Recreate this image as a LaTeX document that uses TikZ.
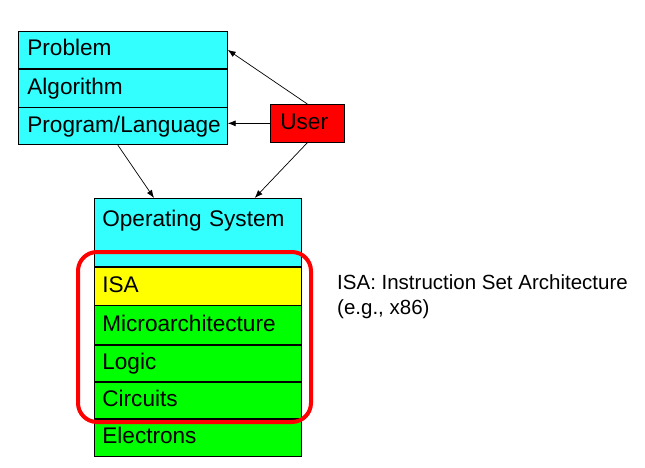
\documentclass[tikz,border=0pt]{standalone}
\usepackage{fontspec}
\setmainfont{Liberation Sans}
\usetikzlibrary{arrows.meta}

\definecolor{layerCyan}{RGB}{51,255,255}
\definecolor{layerYellow}{RGB}{255,255,0}
\definecolor{layerGreen}{RGB}{0,255,0}
\definecolor{userRed}{RGB}{255,0,0}

\tikzset{
  layer/.style={
    draw, line width=0.7pt, anchor=north west,
    inner xsep=9pt, inner ysep=0pt,
    text width=191pt, align=left,
    text height=16pt, text depth=4pt,
    font=\fontsize{22.6}{27}\selectfont
  },
  link/.style={-{Latex[length=8pt,width=6pt]}, line width=0.7pt},
  isaRing/.style={draw=userRed, line width=4pt, rounded corners=19pt},
}

\begin{document}
\begin{tikzpicture}[x=1pt, y=-1pt]
      \useasboundingbox (0,0) rectangle (645,468);

      % Software side
      \node[layer, fill=layerCyan, minimum width=209pt, minimum height=37pt]
        (problem) at (18,31) {Problem};
      \node[layer, fill=layerCyan, minimum width=209pt, minimum height=38pt]
        (algorithm) at (problem.south west) {Algorithm};
      \node[layer, fill=layerCyan, minimum width=209pt, minimum height=37pt]
        (program) at (algorithm.south west) {Program/Language};

      \node[layer, fill=userRed, text width=54pt, inner xsep=10pt,
        minimum width=74pt, minimum height=38pt]
        (user) at (270,104) {User};

      % Hardware side
      \node[layer, fill=layerCyan, inner xsep=8pt, inner ysep=12pt,
        text depth=28pt, minimum width=207pt, minimum height=68pt]
        (os) at (94,198) {Operating System};
      \node[layer, fill=layerYellow, inner xsep=8pt,
        minimum width=207pt, minimum height=38pt]
        (isa) at (os.south west) {ISA};
      \node[layer, fill=layerGreen, inner xsep=8pt,
        minimum width=207pt, minimum height=39pt]
        (micro) at (isa.south west) {Microarchitecture};
      \node[layer, fill=layerGreen, inner xsep=8pt,
        minimum width=207pt, minimum height=36pt]
        (logic) at (micro.south west) {Logic};
      \node[layer, fill=layerGreen, inner xsep=8pt,
        minimum width=207pt, minimum height=36pt]
        (circuits) at (logic.south west) {Circuits};
      \node[layer, fill=layerGreen, inner xsep=8pt,
        minimum width=207pt, minimum height=37pt]
        (electrons) at (circuits.south west) {Electrons};

      % Arrows
      \draw[link] (user.north) -- (problem.east);
      \draw[link] (user.west) -- (user.west -| program.east);
      \draw[link] ([xshift=-5pt]program.south) -- ([xshift=60pt]os.north west);
      \draw[link] (user.south) -- ([xshift=-47pt]os.north east);

      % ISA ring
      \draw[isaRing] (78,252) rectangle (311,422);

      % Labels
      \node[anchor=north west, inner sep=0pt, align=left,
        font=\fontsize{20.5}{25}\selectfont]
        (isaNote) at (337,274.3)
        {ISA: Instruction Set Architecture\\(e.g., x86)};
\end{tikzpicture}
\end{document}
